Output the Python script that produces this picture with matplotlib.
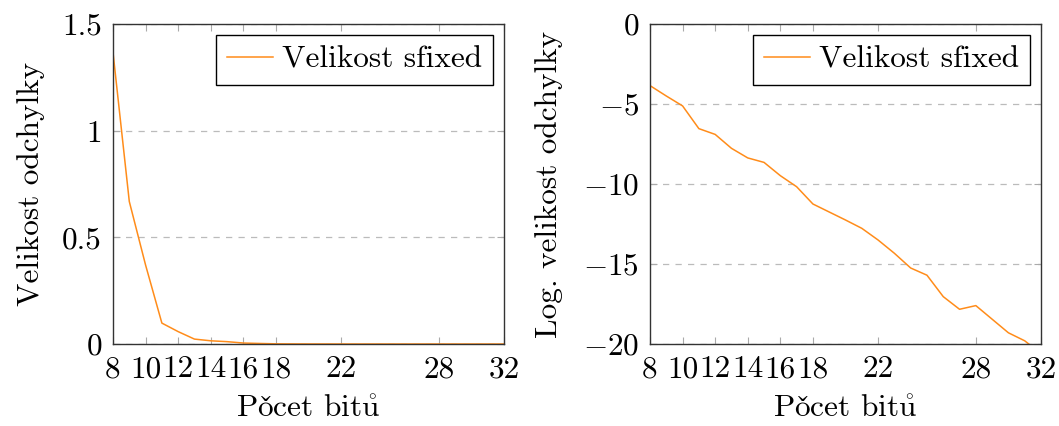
import matplotlib
matplotlib.use("Agg")
import matplotlib.pyplot as plt

plt.rcParams['font.family'] = ['cmr10', 'DejaVu Serif']
plt.rcParams['mathtext.fontset'] = 'cm'
plt.rcParams['axes.formatter.use_mathtext'] = True

# data
bits = [8, 9, 10, 11, 12, 13, 14, 15, 16, 17, 18, 19, 20, 21, 22, 23, 24, 25, 26, 27, 28, 29, 30, 31, 32]
error = [1.367, 0.668, 0.37, 0.098, 0.058, 0.023, 0.015, 0.011, 0.0045, 0.0025, 0.0008, 0.0005,
         0.0003, 0.0002, 0.0001, 0.00005, 0.00002, 0.00001, 0, 0, 0, 0, 0, 0, 0]
log_error = [-3.85, -4.5, -5.12, -6.54, -6.9, -7.77, -8.37, -8.65, -9.48, -10.17, -11.25, -11.75,
             -12.25, -12.77, -13.5, -14.33, -15.25, -15.7, -17.04, -17.83, -17.6, -18.45, -19.3,
             -19.8, -20.6]

xticks = [8, 10, 12, 14, 16, 18, 22, 28, 32]
left_yticks = [0, 0.5, 1, 1.5]
left_ylabels = ['0', '0.5', '1', '1.5']
right_yticks = [-20, -15, -10, -5, 0]
right_ylabels = [r'$-20$', r'$-15$', r'$-10$', r'$-5$', r'$0$']
xlabel = r'Po$\check{\mathrm{c}}$et bit$\mathring{\mathrm{u}}$'

W, H = 1059, 426
fig = plt.figure(figsize=(W / 100, H / 100), dpi=100)
ax1 = fig.add_axes([113 / W, 82 / H, 391 / W, 320 / H])
ax2 = fig.add_axes([650 / W, 82 / H, 391 / W, 320 / H])

orange = '#ff8c1a'
fs = 22.5

def style(ax, yticks, ylabels, ylim, ylabel, ylpad):
    ax.set_xlim(8, 32)
    ax.set_ylim(*ylim)
    ax.set_xticks(xticks)
    ax.set_xticklabels([str(t) for t in xticks])
    ax.set_yticks(yticks)
    ax.set_yticklabels(ylabels)
    ax.tick_params(direction='in', length=5, width=0.8, color='#aaaaaa',
                   top=True, right=True, labelsize=fs, pad=8)
    ax.yaxis.grid(True, linestyle=(0, (5, 5)), color='#bbbbbb', linewidth=0.9)
    ax.set_axisbelow(True)
    for s in ax.spines.values():
        s.set_color('#333333')
        s.set_linewidth(1.0)
    ax.set_xlabel(xlabel, fontsize=fs, labelpad=9)
    ax.set_ylabel(ylabel, fontsize=fs, labelpad=ylpad)
    leg = ax.legend(loc='upper right', fontsize=fs, frameon=True, fancybox=False,
                    edgecolor='black', framealpha=1, borderpad=0.35, handlelength=1.45,
                    borderaxespad=0.35, handletextpad=0.3)
    leg.get_frame().set_linewidth(1.0)

ax1.plot(bits, error, color=orange, linewidth=1.1, label='Velikost sfixed')
style(ax1, left_yticks, left_ylabels, (0, 1.5), 'Velikost odchylky', 12)

ax2.plot(bits, log_error, color=orange, linewidth=1.1, label='Velikost sfixed')
style(ax2, right_yticks, right_ylabels, (-20, 0), 'Log. velikost odchylky', 14)

fig.savefig('out.png', dpi=100)
